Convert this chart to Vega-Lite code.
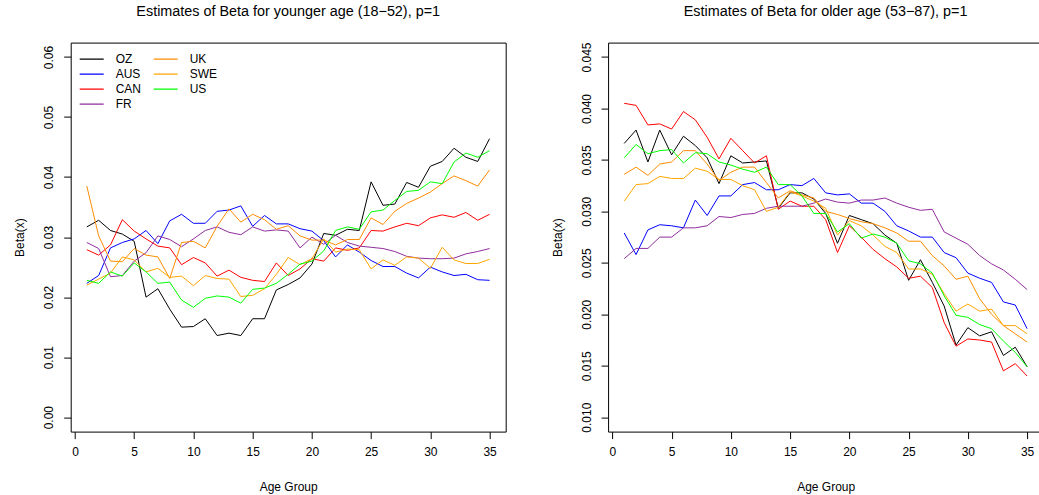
{
  "$schema": "https://vega.github.io/schema/vega-lite/v6.json",
  "padding": {"left": 12.7, "top": 2.6, "right": 0, "bottom": 0},
  "background": "white",
  "config": {
    "font": "Liberation Sans",
    "axis": {
      "labelFont": "Liberation Sans", "titleFont": "Liberation Sans",
      "labelFontSize": 12, "titleFontSize": 12, "titleFontWeight": "normal",
      "labelColor": "black", "titleColor": "black",
      "tickColor": "black", "domainColor": "black", "tickSize": 7, "tickWidth": 1, "domainWidth": 1,
      "grid": false, "labelFlush": false, "labelOverlap": false
    }
  },
  "datasets": {
    "young": [
      {"country":"OZ","age":1,"beta":0.0317},{"country":"OZ","age":2,"beta":0.0328},{"country":"OZ","age":3,"beta":0.0311},{"country":"OZ","age":4,"beta":0.0305},{"country":"OZ","age":5,"beta":0.0293},{"country":"OZ","age":6,"beta":0.0200},{"country":"OZ","age":7,"beta":0.0214},{"country":"OZ","age":8,"beta":0.0180},{"country":"OZ","age":9,"beta":0.0150},{"country":"OZ","age":10,"beta":0.0151},{"country":"OZ","age":11,"beta":0.0164},{"country":"OZ","age":12,"beta":0.0136},{"country":"OZ","age":13,"beta":0.0140},{"country":"OZ","age":14,"beta":0.0136},{"country":"OZ","age":15,"beta":0.0164},{"country":"OZ","age":16,"beta":0.0164},{"country":"OZ","age":17,"beta":0.0212},{"country":"OZ","age":18,"beta":0.0221},{"country":"OZ","age":19,"beta":0.0232},{"country":"OZ","age":20,"beta":0.0255},{"country":"OZ","age":21,"beta":0.0306},{"country":"OZ","age":22,"beta":0.0303},{"country":"OZ","age":23,"beta":0.0313},{"country":"OZ","age":24,"beta":0.0311},{"country":"OZ","age":25,"beta":0.0392},{"country":"OZ","age":26,"beta":0.0353},{"country":"OZ","age":27,"beta":0.0355},{"country":"OZ","age":28,"beta":0.0391},{"country":"OZ","age":29,"beta":0.0383},{"country":"OZ","age":30,"beta":0.0418},{"country":"OZ","age":31,"beta":0.0426},{"country":"OZ","age":32,"beta":0.0448},{"country":"OZ","age":33,"beta":0.0433},{"country":"OZ","age":34,"beta":0.0426},{"country":"OZ","age":35,"beta":0.0464},
      {"country":"AUS","age":1,"beta":0.0223},{"country":"AUS","age":2,"beta":0.0236},{"country":"AUS","age":3,"beta":0.0282},{"country":"AUS","age":4,"beta":0.0291},{"country":"AUS","age":5,"beta":0.0297},{"country":"AUS","age":6,"beta":0.0311},{"country":"AUS","age":7,"beta":0.0289},{"country":"AUS","age":8,"beta":0.0327},{"country":"AUS","age":9,"beta":0.0338},{"country":"AUS","age":10,"beta":0.0323},{"country":"AUS","age":11,"beta":0.0323},{"country":"AUS","age":12,"beta":0.0343},{"country":"AUS","age":13,"beta":0.0345},{"country":"AUS","age":14,"beta":0.0352},{"country":"AUS","age":15,"beta":0.0318},{"country":"AUS","age":16,"beta":0.0336},{"country":"AUS","age":17,"beta":0.0322},{"country":"AUS","age":18,"beta":0.0322},{"country":"AUS","age":19,"beta":0.0314},{"country":"AUS","age":20,"beta":0.0310},{"country":"AUS","age":21,"beta":0.0294},{"country":"AUS","age":22,"beta":0.0267},{"country":"AUS","age":23,"beta":0.0287},{"country":"AUS","age":24,"beta":0.0275},{"country":"AUS","age":25,"beta":0.0261},{"country":"AUS","age":26,"beta":0.0251},{"country":"AUS","age":27,"beta":0.0251},{"country":"AUS","age":28,"beta":0.0240},{"country":"AUS","age":29,"beta":0.0232},{"country":"AUS","age":30,"beta":0.0250},{"country":"AUS","age":31,"beta":0.0242},{"country":"AUS","age":32,"beta":0.0236},{"country":"AUS","age":33,"beta":0.0238},{"country":"AUS","age":34,"beta":0.0229},{"country":"AUS","age":35,"beta":0.0228},
      {"country":"CAN","age":1,"beta":0.0279},{"country":"CAN","age":2,"beta":0.0270},{"country":"CAN","age":3,"beta":0.0287},{"country":"CAN","age":4,"beta":0.0329},{"country":"CAN","age":5,"beta":0.0310},{"country":"CAN","age":6,"beta":0.0297},{"country":"CAN","age":7,"beta":0.0285},{"country":"CAN","age":8,"beta":0.0282},{"country":"CAN","age":9,"beta":0.0254},{"country":"CAN","age":10,"beta":0.0266},{"country":"CAN","age":11,"beta":0.0257},{"country":"CAN","age":12,"beta":0.0235},{"country":"CAN","age":13,"beta":0.0245},{"country":"CAN","age":14,"beta":0.0233},{"country":"CAN","age":15,"beta":0.0228},{"country":"CAN","age":16,"beta":0.0226},{"country":"CAN","age":17,"beta":0.0257},{"country":"CAN","age":18,"beta":0.0236},{"country":"CAN","age":19,"beta":0.0247},{"country":"CAN","age":20,"beta":0.0264},{"country":"CAN","age":21,"beta":0.0260},{"country":"CAN","age":22,"beta":0.0282},{"country":"CAN","age":23,"beta":0.0278},{"country":"CAN","age":24,"beta":0.0282},{"country":"CAN","age":25,"beta":0.0311},{"country":"CAN","age":26,"beta":0.0310},{"country":"CAN","age":27,"beta":0.0317},{"country":"CAN","age":28,"beta":0.0323},{"country":"CAN","age":29,"beta":0.0319},{"country":"CAN","age":30,"beta":0.0332},{"country":"CAN","age":31,"beta":0.0337},{"country":"CAN","age":32,"beta":0.0333},{"country":"CAN","age":33,"beta":0.0341},{"country":"CAN","age":34,"beta":0.0328},{"country":"CAN","age":35,"beta":0.0338},
      {"country":"FR","age":1,"beta":0.0291},{"country":"FR","age":2,"beta":0.0281},{"country":"FR","age":3,"beta":0.0234},{"country":"FR","age":4,"beta":0.0236},{"country":"FR","age":5,"beta":0.0260},{"country":"FR","age":6,"beta":0.0274},{"country":"FR","age":7,"beta":0.0302},{"country":"FR","age":8,"beta":0.0296},{"country":"FR","age":9,"beta":0.0284},{"country":"FR","age":10,"beta":0.0297},{"country":"FR","age":11,"beta":0.0311},{"country":"FR","age":12,"beta":0.0317},{"country":"FR","age":13,"beta":0.0308},{"country":"FR","age":14,"beta":0.0304},{"country":"FR","age":15,"beta":0.0317},{"country":"FR","age":16,"beta":0.0310},{"country":"FR","age":17,"beta":0.0312},{"country":"FR","age":18,"beta":0.0310},{"country":"FR","age":19,"beta":0.0282},{"country":"FR","age":20,"beta":0.0300},{"country":"FR","age":21,"beta":0.0288},{"country":"FR","age":22,"beta":0.0303},{"country":"FR","age":23,"beta":0.0291},{"country":"FR","age":24,"beta":0.0285},{"country":"FR","age":25,"beta":0.0283},{"country":"FR","age":26,"beta":0.0281},{"country":"FR","age":27,"beta":0.0276},{"country":"FR","age":28,"beta":0.0268},{"country":"FR","age":29,"beta":0.0265},{"country":"FR","age":30,"beta":0.0264},{"country":"FR","age":31,"beta":0.0264},{"country":"FR","age":32,"beta":0.0265},{"country":"FR","age":33,"beta":0.0272},{"country":"FR","age":34,"beta":0.0276},{"country":"FR","age":35,"beta":0.0281},
      {"country":"UK","age":1,"beta":0.0385},{"country":"UK","age":2,"beta":0.0302},{"country":"UK","age":3,"beta":0.0260},{"country":"UK","age":4,"beta":0.0259},{"country":"UK","age":5,"beta":0.0281},{"country":"UK","age":6,"beta":0.0270},{"country":"UK","age":7,"beta":0.0267},{"country":"UK","age":8,"beta":0.0231},{"country":"UK","age":9,"beta":0.0291},{"country":"UK","age":10,"beta":0.0293},{"country":"UK","age":11,"beta":0.0282},{"country":"UK","age":12,"beta":0.0318},{"country":"UK","age":13,"beta":0.0347},{"country":"UK","age":14,"beta":0.0325},{"country":"UK","age":15,"beta":0.0338},{"country":"UK","age":16,"beta":0.0329},{"country":"UK","age":17,"beta":0.0313},{"country":"UK","age":18,"beta":0.0319},{"country":"UK","age":19,"beta":0.0302},{"country":"UK","age":20,"beta":0.0295},{"country":"UK","age":21,"beta":0.0295},{"country":"UK","age":22,"beta":0.0287},{"country":"UK","age":23,"beta":0.0296},{"country":"UK","age":24,"beta":0.0296},{"country":"UK","age":25,"beta":0.0332},{"country":"UK","age":26,"beta":0.0321},{"country":"UK","age":27,"beta":0.0343},{"country":"UK","age":28,"beta":0.0356},{"country":"UK","age":29,"beta":0.0365},{"country":"UK","age":30,"beta":0.0375},{"country":"UK","age":31,"beta":0.0389},{"country":"UK","age":32,"beta":0.0402},{"country":"UK","age":33,"beta":0.0394},{"country":"UK","age":34,"beta":0.0385},{"country":"UK","age":35,"beta":0.0412},
      {"country":"SWE","age":1,"beta":0.0220},{"country":"SWE","age":2,"beta":0.0230},{"country":"SWE","age":3,"beta":0.0240},{"country":"SWE","age":4,"beta":0.0267},{"country":"SWE","age":5,"beta":0.0262},{"country":"SWE","age":6,"beta":0.0242},{"country":"SWE","age":7,"beta":0.0248},{"country":"SWE","age":8,"beta":0.0233},{"country":"SWE","age":9,"beta":0.0235},{"country":"SWE","age":10,"beta":0.0219},{"country":"SWE","age":11,"beta":0.0236},{"country":"SWE","age":12,"beta":0.0231},{"country":"SWE","age":13,"beta":0.0230},{"country":"SWE","age":14,"beta":0.0201},{"country":"SWE","age":15,"beta":0.0203},{"country":"SWE","age":16,"beta":0.0214},{"country":"SWE","age":17,"beta":0.0238},{"country":"SWE","age":18,"beta":0.0266},{"country":"SWE","age":19,"beta":0.0254},{"country":"SWE","age":20,"beta":0.0264},{"country":"SWE","age":21,"beta":0.0297},{"country":"SWE","age":22,"beta":0.0275},{"country":"SWE","age":23,"beta":0.0280},{"country":"SWE","age":24,"beta":0.0279},{"country":"SWE","age":25,"beta":0.0247},{"country":"SWE","age":26,"beta":0.0262},{"country":"SWE","age":27,"beta":0.0253},{"country":"SWE","age":28,"beta":0.0267},{"country":"SWE","age":29,"beta":0.0265},{"country":"SWE","age":30,"beta":0.0248},{"country":"SWE","age":31,"beta":0.0283},{"country":"SWE","age":32,"beta":0.0262},{"country":"SWE","age":33,"beta":0.0256},{"country":"SWE","age":34,"beta":0.0256},{"country":"SWE","age":35,"beta":0.0263},
      {"country":"US","age":1,"beta":0.0228},{"country":"US","age":2,"beta":0.0223},{"country":"US","age":3,"beta":0.0242},{"country":"US","age":4,"beta":0.0235},{"country":"US","age":5,"beta":0.0257},{"country":"US","age":6,"beta":0.0242},{"country":"US","age":7,"beta":0.0223},{"country":"US","age":8,"beta":0.0225},{"country":"US","age":9,"beta":0.0195},{"country":"US","age":10,"beta":0.0183},{"country":"US","age":11,"beta":0.0198},{"country":"US","age":12,"beta":0.0202},{"country":"US","age":13,"beta":0.0200},{"country":"US","age":14,"beta":0.0190},{"country":"US","age":15,"beta":0.0213},{"country":"US","age":16,"beta":0.0215},{"country":"US","age":17,"beta":0.0223},{"country":"US","age":18,"beta":0.0238},{"country":"US","age":19,"beta":0.0255},{"country":"US","age":20,"beta":0.0260},{"country":"US","age":21,"beta":0.0277},{"country":"US","age":22,"beta":0.0311},{"country":"US","age":23,"beta":0.0317},{"country":"US","age":24,"beta":0.0313},{"country":"US","age":25,"beta":0.0342},{"country":"US","age":26,"beta":0.0345},{"country":"US","age":27,"beta":0.0361},{"country":"US","age":28,"beta":0.0376},{"country":"US","age":29,"beta":0.0378},{"country":"US","age":30,"beta":0.0392},{"country":"US","age":31,"beta":0.0389},{"country":"US","age":32,"beta":0.0425},{"country":"US","age":33,"beta":0.0440},{"country":"US","age":34,"beta":0.0433},{"country":"US","age":35,"beta":0.0444}
    ],
    "old": [
      {"country":"OZ","age":1,"beta":0.0366},{"country":"OZ","age":2,"beta":0.0379},{"country":"OZ","age":3,"beta":0.0348},{"country":"OZ","age":4,"beta":0.0379},{"country":"OZ","age":5,"beta":0.0355},{"country":"OZ","age":6,"beta":0.0373},{"country":"OZ","age":7,"beta":0.0364},{"country":"OZ","age":8,"beta":0.0352},{"country":"OZ","age":9,"beta":0.0327},{"country":"OZ","age":10,"beta":0.0354},{"country":"OZ","age":11,"beta":0.0347},{"country":"OZ","age":12,"beta":0.0348},{"country":"OZ","age":13,"beta":0.0349},{"country":"OZ","age":14,"beta":0.0303},{"country":"OZ","age":15,"beta":0.0318},{"country":"OZ","age":16,"beta":0.0318},{"country":"OZ","age":17,"beta":0.0312},{"country":"OZ","age":18,"beta":0.0298},{"country":"OZ","age":19,"beta":0.0269},{"country":"OZ","age":20,"beta":0.0296},{"country":"OZ","age":21,"beta":0.0292},{"country":"OZ","age":22,"beta":0.0288},{"country":"OZ","age":23,"beta":0.0277},{"country":"OZ","age":24,"beta":0.0269},{"country":"OZ","age":25,"beta":0.0233},{"country":"OZ","age":26,"beta":0.0253},{"country":"OZ","age":27,"beta":0.0231},{"country":"OZ","age":28,"beta":0.0208},{"country":"OZ","age":29,"beta":0.0170},{"country":"OZ","age":30,"beta":0.0187},{"country":"OZ","age":31,"beta":0.0179},{"country":"OZ","age":32,"beta":0.0183},{"country":"OZ","age":33,"beta":0.0160},{"country":"OZ","age":34,"beta":0.0168},{"country":"OZ","age":35,"beta":0.0149},
      {"country":"AUS","age":1,"beta":0.0279},{"country":"AUS","age":2,"beta":0.0258},{"country":"AUS","age":3,"beta":0.0282},{"country":"AUS","age":4,"beta":0.0287},{"country":"AUS","age":5,"beta":0.0286},{"country":"AUS","age":6,"beta":0.0284},{"country":"AUS","age":7,"beta":0.0311},{"country":"AUS","age":8,"beta":0.0296},{"country":"AUS","age":9,"beta":0.0315},{"country":"AUS","age":10,"beta":0.0315},{"country":"AUS","age":11,"beta":0.0326},{"country":"AUS","age":12,"beta":0.0328},{"country":"AUS","age":13,"beta":0.0321},{"country":"AUS","age":14,"beta":0.0321},{"country":"AUS","age":15,"beta":0.0326},{"country":"AUS","age":16,"beta":0.0325},{"country":"AUS","age":17,"beta":0.0332},{"country":"AUS","age":18,"beta":0.0318},{"country":"AUS","age":19,"beta":0.0316},{"country":"AUS","age":20,"beta":0.0317},{"country":"AUS","age":21,"beta":0.0308},{"country":"AUS","age":22,"beta":0.0308},{"country":"AUS","age":23,"beta":0.0300},{"country":"AUS","age":24,"beta":0.0286},{"country":"AUS","age":25,"beta":0.0281},{"country":"AUS","age":26,"beta":0.0275},{"country":"AUS","age":27,"beta":0.0275},{"country":"AUS","age":28,"beta":0.0260},{"country":"AUS","age":29,"beta":0.0255},{"country":"AUS","age":30,"beta":0.0240},{"country":"AUS","age":31,"beta":0.0235},{"country":"AUS","age":32,"beta":0.0231},{"country":"AUS","age":33,"beta":0.0212},{"country":"AUS","age":34,"beta":0.0209},{"country":"AUS","age":35,"beta":0.0186},
      {"country":"CAN","age":1,"beta":0.0405},{"country":"CAN","age":2,"beta":0.0403},{"country":"CAN","age":3,"beta":0.0384},{"country":"CAN","age":4,"beta":0.0385},{"country":"CAN","age":5,"beta":0.0380},{"country":"CAN","age":6,"beta":0.0397},{"country":"CAN","age":7,"beta":0.0389},{"country":"CAN","age":8,"beta":0.0372},{"country":"CAN","age":9,"beta":0.0351},{"country":"CAN","age":10,"beta":0.0371},{"country":"CAN","age":11,"beta":0.0359},{"country":"CAN","age":12,"beta":0.0347},{"country":"CAN","age":13,"beta":0.0354},{"country":"CAN","age":14,"beta":0.0302},{"country":"CAN","age":15,"beta":0.0310},{"country":"CAN","age":16,"beta":0.0305},{"country":"CAN","age":17,"beta":0.0305},{"country":"CAN","age":18,"beta":0.0292},{"country":"CAN","age":19,"beta":0.0260},{"country":"CAN","age":20,"beta":0.0286},{"country":"CAN","age":21,"beta":0.0275},{"country":"CAN","age":22,"beta":0.0263},{"country":"CAN","age":23,"beta":0.0254},{"country":"CAN","age":24,"beta":0.0246},{"country":"CAN","age":25,"beta":0.0235},{"country":"CAN","age":26,"beta":0.0237},{"country":"CAN","age":27,"beta":0.0226},{"country":"CAN","age":28,"beta":0.0192},{"country":"CAN","age":29,"beta":0.0169},{"country":"CAN","age":30,"beta":0.0176},{"country":"CAN","age":31,"beta":0.0175},{"country":"CAN","age":32,"beta":0.0173},{"country":"CAN","age":33,"beta":0.0145},{"country":"CAN","age":34,"beta":0.0152},{"country":"CAN","age":35,"beta":0.0140},
      {"country":"FR","age":1,"beta":0.0254},{"country":"FR","age":2,"beta":0.0264},{"country":"FR","age":3,"beta":0.0264},{"country":"FR","age":4,"beta":0.0275},{"country":"FR","age":5,"beta":0.0275},{"country":"FR","age":6,"beta":0.0284},{"country":"FR","age":7,"beta":0.0284},{"country":"FR","age":8,"beta":0.0286},{"country":"FR","age":9,"beta":0.0295},{"country":"FR","age":10,"beta":0.0294},{"country":"FR","age":11,"beta":0.0297},{"country":"FR","age":12,"beta":0.0298},{"country":"FR","age":13,"beta":0.0303},{"country":"FR","age":14,"beta":0.0305},{"country":"FR","age":15,"beta":0.0305},{"country":"FR","age":16,"beta":0.0305},{"country":"FR","age":17,"beta":0.0308},{"country":"FR","age":18,"beta":0.0312},{"country":"FR","age":19,"beta":0.0309},{"country":"FR","age":20,"beta":0.0308},{"country":"FR","age":21,"beta":0.0311},{"country":"FR","age":22,"beta":0.0311},{"country":"FR","age":23,"beta":0.0313},{"country":"FR","age":24,"beta":0.0308},{"country":"FR","age":25,"beta":0.0304},{"country":"FR","age":26,"beta":0.0301},{"country":"FR","age":27,"beta":0.0302},{"country":"FR","age":28,"beta":0.0280},{"country":"FR","age":29,"beta":0.0274},{"country":"FR","age":30,"beta":0.0268},{"country":"FR","age":31,"beta":0.0257},{"country":"FR","age":32,"beta":0.0249},{"country":"FR","age":33,"beta":0.0243},{"country":"FR","age":34,"beta":0.0234},{"country":"FR","age":35,"beta":0.0224},
      {"country":"UK","age":1,"beta":0.0336},{"country":"UK","age":2,"beta":0.0343},{"country":"UK","age":3,"beta":0.0335},{"country":"UK","age":4,"beta":0.0346},{"country":"UK","age":5,"beta":0.0348},{"country":"UK","age":6,"beta":0.0359},{"country":"UK","age":7,"beta":0.0359},{"country":"UK","age":8,"beta":0.0346},{"country":"UK","age":9,"beta":0.0330},{"country":"UK","age":10,"beta":0.0338},{"country":"UK","age":11,"beta":0.0343},{"country":"UK","age":12,"beta":0.0343},{"country":"UK","age":13,"beta":0.0328},{"country":"UK","age":14,"beta":0.0313},{"country":"UK","age":15,"beta":0.0320},{"country":"UK","age":16,"beta":0.0316},{"country":"UK","age":17,"beta":0.0313},{"country":"UK","age":18,"beta":0.0300},{"country":"UK","age":19,"beta":0.0297},{"country":"UK","age":20,"beta":0.0293},{"country":"UK","age":21,"beta":0.0290},{"country":"UK","age":22,"beta":0.0288},{"country":"UK","age":23,"beta":0.0284},{"country":"UK","age":24,"beta":0.0279},{"country":"UK","age":25,"beta":0.0271},{"country":"UK","age":26,"beta":0.0271},{"country":"UK","age":27,"beta":0.0257},{"country":"UK","age":28,"beta":0.0247},{"country":"UK","age":29,"beta":0.0234},{"country":"UK","age":30,"beta":0.0237},{"country":"UK","age":31,"beta":0.0215},{"country":"UK","age":32,"beta":0.0200},{"country":"UK","age":33,"beta":0.0189},{"country":"UK","age":34,"beta":0.0181},{"country":"UK","age":35,"beta":0.0173},
      {"country":"SWE","age":1,"beta":0.0310},{"country":"SWE","age":2,"beta":0.0326},{"country":"SWE","age":3,"beta":0.0327},{"country":"SWE","age":4,"beta":0.0334},{"country":"SWE","age":5,"beta":0.0332},{"country":"SWE","age":6,"beta":0.0332},{"country":"SWE","age":7,"beta":0.0342},{"country":"SWE","age":8,"beta":0.0339},{"country":"SWE","age":9,"beta":0.0331},{"country":"SWE","age":10,"beta":0.0331},{"country":"SWE","age":11,"beta":0.0325},{"country":"SWE","age":12,"beta":0.0321},{"country":"SWE","age":13,"beta":0.0300},{"country":"SWE","age":14,"beta":0.0304},{"country":"SWE","age":15,"beta":0.0319},{"country":"SWE","age":16,"beta":0.0315},{"country":"SWE","age":17,"beta":0.0310},{"country":"SWE","age":18,"beta":0.0303},{"country":"SWE","age":19,"beta":0.0277},{"country":"SWE","age":20,"beta":0.0291},{"country":"SWE","age":21,"beta":0.0286},{"country":"SWE","age":22,"beta":0.0277},{"country":"SWE","age":23,"beta":0.0266},{"country":"SWE","age":24,"beta":0.0260},{"country":"SWE","age":25,"beta":0.0244},{"country":"SWE","age":26,"beta":0.0244},{"country":"SWE","age":27,"beta":0.0239},{"country":"SWE","age":28,"beta":0.0220},{"country":"SWE","age":29,"beta":0.0203},{"country":"SWE","age":30,"beta":0.0210},{"country":"SWE","age":31,"beta":0.0203},{"country":"SWE","age":32,"beta":0.0205},{"country":"SWE","age":33,"beta":0.0189},{"country":"SWE","age":34,"beta":0.0189},{"country":"SWE","age":35,"beta":0.0181},
      {"country":"US","age":1,"beta":0.0352},{"country":"US","age":2,"beta":0.0365},{"country":"US","age":3,"beta":0.0356},{"country":"US","age":4,"beta":0.0359},{"country":"US","age":5,"beta":0.0360},{"country":"US","age":6,"beta":0.0347},{"country":"US","age":7,"beta":0.0357},{"country":"US","age":8,"beta":0.0356},{"country":"US","age":9,"beta":0.0348},{"country":"US","age":10,"beta":0.0345},{"country":"US","age":11,"beta":0.0341},{"country":"US","age":12,"beta":0.0338},{"country":"US","age":13,"beta":0.0343},{"country":"US","age":14,"beta":0.0326},{"country":"US","age":15,"beta":0.0326},{"country":"US","age":16,"beta":0.0315},{"country":"US","age":17,"beta":0.0298},{"country":"US","age":18,"beta":0.0298},{"country":"US","age":19,"beta":0.0280},{"country":"US","age":20,"beta":0.0288},{"country":"US","age":21,"beta":0.0274},{"country":"US","age":22,"beta":0.0278},{"country":"US","age":23,"beta":0.0275},{"country":"US","age":24,"beta":0.0269},{"country":"US","age":25,"beta":0.0252},{"country":"US","age":26,"beta":0.0249},{"country":"US","age":27,"beta":0.0240},{"country":"US","age":28,"beta":0.0218},{"country":"US","age":29,"beta":0.0199},{"country":"US","age":30,"beta":0.0197},{"country":"US","age":31,"beta":0.0190},{"country":"US","age":32,"beta":0.0186},{"country":"US","age":33,"beta":0.0174},{"country":"US","age":34,"beta":0.0163},{"country":"US","age":35,"beta":0.0149}
    ]
  },
  "hconcat": [
    {
      "width": 435, "height": 389,
      "view": {"stroke": "black", "strokeWidth": 1},
      "title": {"text": "Estimates of Beta for younger age (18−52), p=1", "font": "Liberation Sans", "fontSize": 14.4, "fontWeight": "normal", "color": "black", "anchor": "middle", "frame": "group", "baseline": "bottom", "offset": 9},
      "data": {"name": "young"},
      "mark": {"type": "line", "strokeWidth": 1},
      "encoding": {
        "x": {"field": "age", "type": "quantitative",
              "scale": {"domain": [-0.36, 36.36], "nice": false, "zero": false},
              "axis": {"values": [0, 5, 10, 15, 20, 25, 30, 35], "format": "d", "title": "Age Group", "domain": false, "labelPadding": 8, "titleY": 50, "titleBaseline": "top"}},
        "y": {"field": "beta", "type": "quantitative",
              "scale": {"domain": [-0.0024, 0.0624], "nice": false, "zero": false},
              "axis": {"values": [0, 0.01, 0.02, 0.03, 0.04, 0.05, 0.06], "format": ".2f", "title": "Beta(x)", "domain": false,
                       "labelAngle": 270, "labelAlign": "center", "labelBaseline": "bottom", "labelPadding": 8,
                       "titleAngle": 270, "titleAlign": "center", "titleBaseline": "middle", "titleX": -51, "titleY": 194.5}},
        "color": {"field": "country", "type": "nominal",
                  "scale": {"domain": ["OZ", "AUS", "CAN", "FR", "UK", "SWE", "US"], "range": ["#000000", "#0000ff", "#ff0000", "#902c9c", "#ff8c00", "#ffa500", "#00ff00"]},
                  "legend": {"orient": "none", "legendX": 8, "legendY": 10.5, "columns": 2, "title": null, "padding": 0,
                             "symbolType": "stroke", "symbolSize": 576, "symbolStrokeWidth": 1.3, "clipHeight": 12,
                             "labelFont": "Liberation Sans", "labelFontSize": 12, "labelColor": "black", "labelOffset": 11,
                             "columnPadding": 11, "rowPadding": 3}}
      }
    },
    {
      "width": 431, "height": 389,
      "view": {"stroke": null},
      "title": {"text": "Estimates of Beta for older age (53−87), p=1", "font": "Liberation Sans", "fontSize": 14.4, "fontWeight": "normal", "color": "black", "anchor": "middle", "frame": "group", "baseline": "bottom", "offset": 9, "dx": 2},
      "data": {"name": "old"},
      "encoding": {
        "color": {"field": "country", "type": "nominal",
                  "scale": {"domain": ["OZ", "AUS", "CAN", "FR", "UK", "SWE", "US"], "range": ["#000000", "#0000ff", "#ff0000", "#902c9c", "#ff8c00", "#ffa500", "#00ff00"]},
                  "legend": null}
      },
      "layer": [
        {
          "transform": [{"filter": {"field": "country", "oneOf": ["OZ", "AUS", "CAN", "FR"]}}],
          "mark": {"type": "line", "strokeWidth": 1},
          "encoding": {
            "x": {"field": "age", "type": "quantitative",
                  "scale": {"domain": [-0.36, 36.01], "nice": false, "zero": false},
                  "axis": {"values": [0, 5, 10, 15, 20, 25, 30, 35], "format": "d", "title": "Age Group", "domain": true, "labelPadding": 8, "titleX": 217.6, "titleY": 50, "titleBaseline": "top"}},
            "y": {"field": "beta", "type": "quantitative",
                  "scale": {"domain": [0.0086, 0.0464], "nice": false, "zero": false},
                  "axis": {"values": [0.010, 0.015, 0.020, 0.025, 0.030, 0.035, 0.040, 0.045], "format": ".3f", "title": "Beta(x)", "domain": true,
                           "labelAngle": 270, "labelAlign": "center", "labelBaseline": "bottom", "labelPadding": 8,
                           "titleAngle": 270, "titleAlign": "center", "titleBaseline": "middle", "titleX": -51, "titleY": 194.5}}
          }
        },
        {
          "transform": [{"filter": {"field": "country", "oneOf": ["UK", "SWE", "US"]}}],
          "mark": {"type": "line", "strokeWidth": 1},
          "encoding": {
            "x": {"field": "age", "type": "quantitative",
                  "scale": {"domain": [-0.36, 36.01], "nice": false, "zero": false},
                  "axis": {"orient": "top", "domain": true, "ticks": false, "labels": false, "title": null}},
            "y": {"field": "beta", "type": "quantitative",
                  "scale": {"domain": [0.0086, 0.0464], "nice": false, "zero": false},
                  "axis": null}
          }
        }
      ],
      "resolve": {"axis": {"x": "independent", "y": "independent"}}
    }
  ],
  "spacing": 102.4,
  "bounds": "flush",
  "resolve": {"scale": {"x": "independent", "y": "independent"}, "legend": {"color": "independent"}}
}
